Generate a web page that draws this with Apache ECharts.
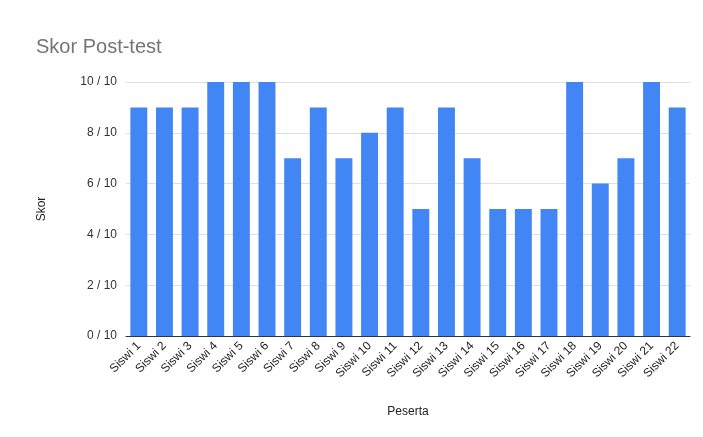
<!DOCTYPE html>
<html><head><meta charset="utf-8">
<script src="https://cdn.jsdelivr.net/npm/echarts@6/dist/echarts.min.js"></script>
<style>html,body{margin:0;padding:0;background:#fff}#c{width:703px;height:437px}</style>
</head><body><div id="c"></div>
<script>
const categories = ["Siswi 1","Siswi 2","Siswi 3","Siswi 4","Siswi 5","Siswi 6","Siswi 7","Siswi 8","Siswi 9","Siswi 10","Siswi 11","Siswi 12","Siswi 13","Siswi 14","Siswi 15","Siswi 16","Siswi 17","Siswi 18","Siswi 19","Siswi 20","Siswi 21","Siswi 22"];
const scores = [9,9,9,10,10,10,7,9,7,8,9,5,9,7,5,5,5,10,6,7,10,9];
const chart = echarts.init(document.getElementById('c'));
chart.setOption({
  animation:false,
  title:{text:'Skor Post-test',left:31,top:32,textStyle:{fontFamily:'Arial, Liberation Sans',fontSize:20,fontWeight:'normal',color:'#757575'}},
  grid:{left:126,right:13,top:82,bottom:101,containLabel:false},
  xAxis:{type:'category',data:categories,name:'Peserta',nameLocation:'middle',nameGap:70,
    nameTextStyle:{fontFamily:'Arial, Liberation Sans',fontSize:12,color:'#222'},
    axisTick:{show:false},axisLine:{lineStyle:{color:'#333',width:1}},
    axisLabel:{rotate:45,interval:0,fontFamily:'Arial, Liberation Sans',fontSize:12,color:'#222',margin:8}},
  yAxis:{type:'value',min:0,max:10,interval:2,name:'Skor',nameLocation:'middle',nameGap:78,
    nameTextStyle:{fontFamily:'Arial, Liberation Sans',fontSize:12,color:'#222'},
    axisLabel:{formatter:v=>v+' / 10',fontFamily:'Arial, Liberation Sans',fontSize:12,color:'#333',margin:9},
    splitLine:{lineStyle:{color:'#e0e0e0'}},axisLine:{show:false},axisTick:{show:false}},
  series:[{type:'bar',data:scores,barWidth:'66%',itemStyle:{color:'#4285F4'}}]
});
</script></body></html>
